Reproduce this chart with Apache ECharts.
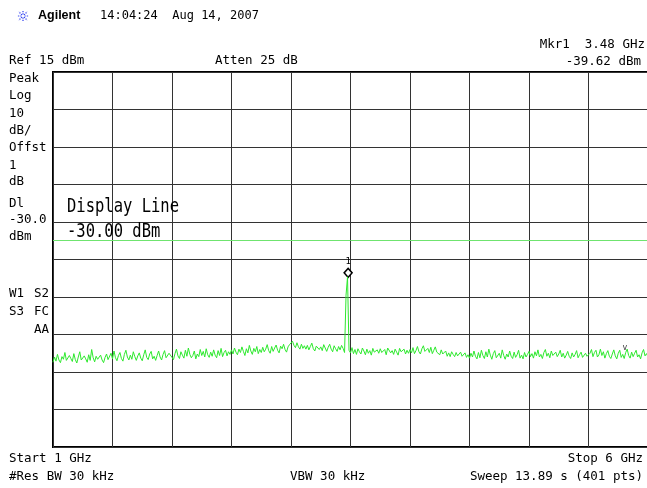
<!DOCTYPE html>
<html>
<head>
<meta charset="utf-8">
<title>Spectrum 1–6 GHz</title>
<script src="https://cdn.jsdelivr.net/npm/echarts@6/dist/echarts.min.js"></script>
<style>
  html, body { margin: 0; padding: 0; background: #fff; }
  #chart { width: 647px; height: 488px; }
</style>
</head>
<body>
<div id="chart"></div>
<script>
// Sweep settings
const startGHz = 1;
const stopGHz = 6;
const sweepPoints = 401;
const refLevel = 15;      // dBm, top of screen
const dbPerDiv = 10;
const divisions = 10;
const displayLine = -30;  // dBm
const marker = { freq: 3.48, level: -39.62 };

// Trace amplitude (dBm), one value per sweep point
const traceDbm = [
  -62.4,-61.0,-62.1,-60.3,-61.8,-62.5,-60.9,-61.6,-59.8,-61.9,-62.3,-60.6,-61.4,-62.2,-60.1,-61.7,-62.6,-61.0,-59.6,-61.8,
  -62.1,-60.7,-61.5,-62.4,-60.4,-61.9,-59.0,-61.2,-62.3,-60.8,-61.6,-62.0,-60.5,-61.8,-62.5,-61.1,-60.2,-61.7,-62.2,-60.0,
  -61.5,-59.4,-61.2,-62.0,-60.6,-59.8,-61.4,-62.1,-60.3,-59.2,-61.0,-61.8,-60.5,-61.6,-59.6,-60.9,-61.9,-60.7,-59.9,-61.3,
  -62.0,-60.4,-59.1,-61.1,-61.7,-60.2,-59.5,-61.5,-60.8,-61.9,-60.6,-59.4,-61.0,-61.8,-60.3,-59.3,-61.2,-61.6,-60.0,-59.7,
  -61.1,-61.7,-60.1,-58.9,-60.7,-61.4,-59.6,-60.5,-61.3,-59.2,-60.8,-58.6,-60.3,-61.2,-60.6,-59.4,-61.5,-60.2,-60.9,-59.0,
  -60.6,-59.5,-61.0,-58.8,-60.4,-61.1,-59.7,-60.8,-59.1,-60.5,-61.2,-59.3,-60.6,-58.7,-60.9,-59.8,-59.2,-60.7,-59.6,-60.3,
  -59.1,-60.2,-58.6,-59.7,-60.4,-58.9,-59.8,-58.3,-59.5,-60.6,-58.8,-59.9,-57.9,-59.4,-60.3,-58.7,-59.6,-58.2,-60.1,-59.0,
  -59.8,-58.4,-59.6,-58.9,-57.7,-59.3,-60.0,-58.2,-59.5,-58.6,-57.8,-59.2,-59.9,-58.1,-58.8,-57.6,-59.0,-59.7,-58.3,-57.7,
  -57.4,-56.8,-57.9,-58.5,-57.2,-58.3,-58.9,-57.6,-58.7,-58.0,-58.9,-57.9,-59.1,-58.2,-57.3,-58.8,-59.4,-58.1,-57.8,-59.0,
  -58.3,-59.3,-57.7,-58.6,-59.5,-58.4,-57.6,-58.9,-59.6,-58.0,-58.8,-59.5,-58.2,-59.1,-57.9,-58.7,-59.8,-44.5,-39.62,-59.2,
  -59.9,-58.5,-60.1,-59.0,-60.3,-58.8,-59.6,-60.2,-58.6,-59.4,-60.4,-58.9,-60.0,-59.3,-60.5,-58.7,-59.7,-60.2,-59.1,-60.0,
  -58.8,-59.8,-60.3,-59.0,-60.4,-58.6,-58.2,-59.9,-59.3,-60.3,-58.9,-59.7,-60.5,-58.7,-59.6,-60.1,-58.9,-60.2,-59.2,-60.0,
  -59.0,-59.9,-58.5,-60.1,-59.3,-58.2,-59.6,-60.2,-58.8,-58.0,-59.5,-60.0,-58.7,-59.8,-58.4,-60.1,-59.2,-58.3,-59.7,-60.2,
  -60.4,-59.1,-60.2,-60.6,-59.4,-60.8,-59.9,-60.9,-59.6,-60.3,-60.9,-59.8,-60.7,-61.2,-59.7,-60.8,-61.0,-59.9,-61.1,-60.4,
  -61.3,-60.0,-61.0,-59.4,-60.8,-61.5,-59.8,-61.2,-59.2,-60.6,-61.4,-59.6,-61.0,-58.9,-60.5,-61.6,-60.1,-59.3,-61.2,-60.7,
  -60.0,-61.3,-59.1,-60.6,-61.6,-60.2,-61.0,-59.4,-60.8,-61.4,-59.7,-61.1,-60.4,-59.2,-61.3,-60.5,-61.5,-59.8,-61.0,-60.3,
  -59.5,-60.9,-60.1,-61.3,-59.6,-60.7,-59.1,-61.0,-60.3,-61.4,-59.8,-59.0,-60.8,-60.0,-61.2,-59.4,-60.6,-61.1,-59.7,-60.9,
  -60.2,-59.2,-61.0,-60.0,-61.3,-60.5,-59.5,-60.8,-61.4,-59.9,-61.0,-60.3,-59.3,-61.2,-60.4,-59.7,-61.1,-61.5,-60.0,-60.8,
  -61.2,-60.0,-59.0,-60.9,-59.8,-59.2,-61.0,-60.4,-58.9,-60.6,-59.6,-61.3,-60.1,-59.3,-60.8,-61.4,-60.2,-59.1,-60.7,-61.5,
  -60.0,-59.2,-61.1,-60.3,-61.4,-59.8,-58.9,-60.6,-61.3,-59.7,-60.9,-60.0,-59.2,-61.0,-60.4,-61.5,-59.9,-59.0,-60.7,-60.1,
  -61.0
];

// Annotation text
const headerDate = '14:04:24  Aug 14, 2007';
const leftLabels = [
  ['Peak', 79], ['Log', 96], ['10', 114], ['dB/', 131], ['Offst', 148],
  ['1', 166], ['dB', 182], ['Dl', 204], ['-30.0', 220], ['dBm', 237]
];

const step = (stopGHz - startGHz) / (sweepPoints - 1);
const tracePairs = traceDbm.map((v, i) => [startGHz + i * step, v]);
const bottomDbm = refLevel - dbPerDiv * divisions;

const mono = '"DejaVu Sans Mono", monospace';
function txt(text, x, y, opts) {
  opts = opts || {};
  return {
    type: 'text', x: x, y: y, z: 100, silent: true,
    scaleY: opts.scaleY || 1,
    style: {
      text: text,
      font: opts.font || ('12.5px ' + mono),
      fill: opts.fill || '#000',
      align: opts.align || 'left',
      verticalAlign: 'middle'
    }
  };
}

// Starburst logo made of short rays
const logo = [];
for (let k = 0; k < 8; k++) {
  const a = k * Math.PI / 4;
  logo.push({
    type: 'line', z: 100, silent: true,
    shape: { x1: 23 + Math.cos(a) * 1.5, y1: 16 + Math.sin(a) * 1.5,
             x2: 23 + Math.cos(a) * 6, y2: 16 + Math.sin(a) * 6 },
    style: { stroke: '#2b3cf0', lineWidth: 1.2, lineDash: [1.2, 1] }
  });
}

const graphics = logo.concat([
  txt('Agilent', 38, 16, { font: 'bold 12.5px "Liberation Sans", Arial, sans-serif' }),
  txt(headerDate, 100, 16, { font: '12px ' + mono }),
  txt('Mkr1  3.48 GHz', 645, 45, { align: 'right' }),
  txt(marker.level.toFixed(2) + ' dBm', 641, 62, { align: 'right' }),
  txt('Ref 15 dBm', 9, 61),
  txt('Atten 25 dB', 215, 61),
  txt('W1', 9, 294),
  txt('S2', 49, 294, { align: 'right' }),
  txt('S3', 9, 312),
  txt('FC', 49, 312, { align: 'right' }),
  txt('AA', 49, 330, { align: 'right' }),
  txt('Display Line', 67, 207, { font: '15.5px ' + mono, scaleY: 1.25 }),
  txt('-30.00 dBm', 67, 232, { font: '15.5px ' + mono, scaleY: 1.25 }),
  txt('Start 1 GHz', 9, 459),
  txt('#Res BW 30 kHz', 9, 477),
  txt('VBW 30 kHz', 290, 477),
  txt('Stop 6 GHz', 643, 459, { align: 'right' }),
  txt('Sweep 13.89 s (401 pts)', 643, 477, { align: 'right' }),
  txt('v', 625, 348, { font: '8px ' + mono, fill: '#333', align: 'center' })
]).concat(leftLabels.map(l => txt(l[0], 9, l[1])));

const chart = echarts.init(document.getElementById('chart'), null, { renderer: 'canvas' });
chart.setOption({
  animation: false,
  backgroundColor: '#fff',
  grid: {
    left: 53, top: 72, width: 595, height: 375,
    outerBoundsMode: 'none',
    show: true, borderColor: '#000', borderWidth: 2, backgroundColor: 'transparent'
  },
  xAxis: {
    type: 'value', min: startGHz, max: stopGHz, interval: (stopGHz - startGHz) / divisions,
    axisLine: { show: false }, axisTick: { show: false }, axisLabel: { show: false },
    splitLine: { show: true, lineStyle: { color: '#333', width: 1 } }
  },
  yAxis: [
    {
      type: 'value', min: bottomDbm, max: refLevel,
      axisLine: { show: false }, axisTick: { show: false }, axisLabel: { show: false },
      splitLine: { show: false }
    },
    {
      // graticule divisions
      type: 'value', min: 0, max: divisions, interval: 1, position: 'left',
      axisLine: { show: false }, axisTick: { show: false }, axisLabel: { show: false },
      splitLine: { show: true, lineStyle: { color: '#333', width: 1 } }
    }
  ],
  series: [
    {
      type: 'line', yAxisIndex: 0, data: tracePairs,
      showSymbol: false, symbol: 'none', z: 5,
      lineStyle: { color: '#2ee82e', width: 1 },
      markLine: {
        silent: true, symbol: 'none', label: { show: false },
        lineStyle: { color: '#6fe46f', width: 1, type: 'solid' },
        data: [{ yAxis: displayLine }]
      },
      markPoint: {
        silent: true,
        data: [{ coord: [marker.freq, marker.level] }],
        symbol: 'diamond', symbolSize: [8, 9], symbolOffset: [0, -4],
        itemStyle: { color: '#fff', borderColor: '#000', borderWidth: 1.5 },
        label: { show: true, formatter: '1', position: 'top', distance: 1,
                 color: '#000', fontSize: 9, fontFamily: mono }
      }
    }
  ],
  graphic: graphics
});
</script>
</body>
</html>
